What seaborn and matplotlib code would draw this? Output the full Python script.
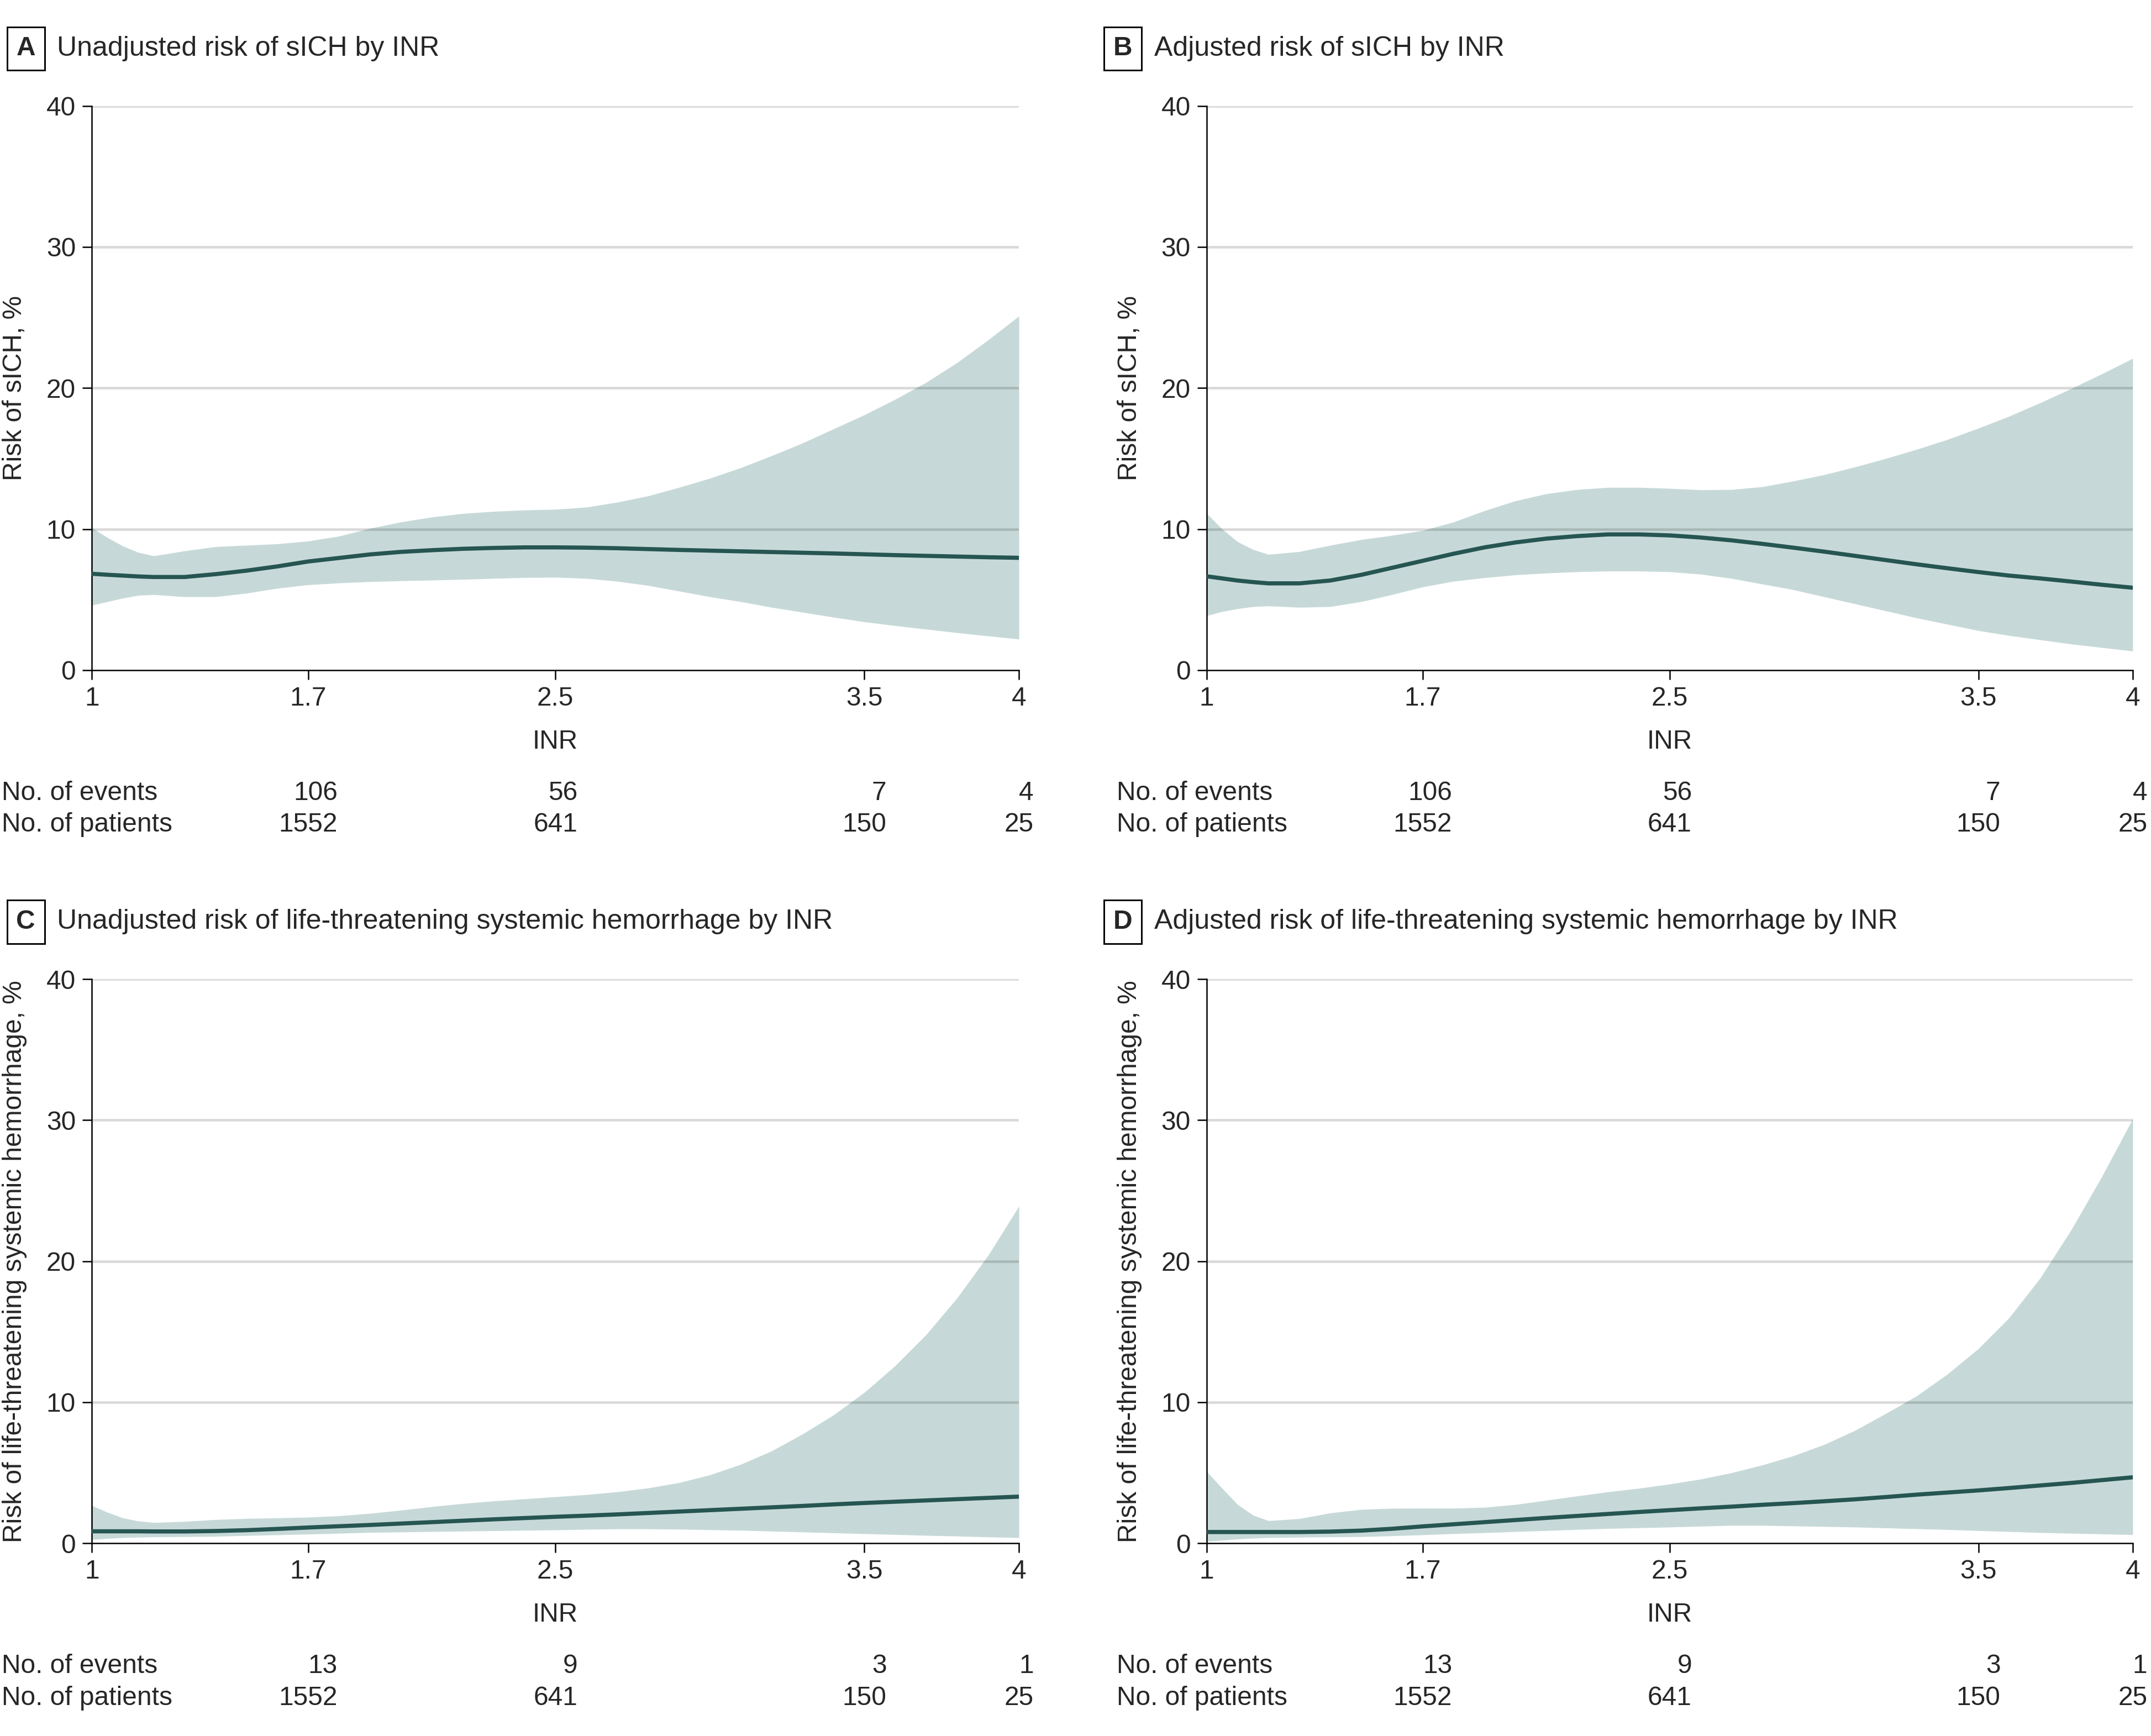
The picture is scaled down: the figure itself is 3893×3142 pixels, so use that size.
import seaborn as sns
import matplotlib.pyplot as plt
import pandas as pd

sns.set_style('white')
plt.rcParams['font.family'] = ['Liberation Sans', 'DejaVu Sans']

# INR grid
inr = [1.0, 1.05, 1.1, 1.15, 1.2, 1.3, 1.4, 1.5, 1.6, 1.7, 1.8, 1.9, 2.0, 2.1, 2.2, 2.3, 2.4,
       2.5, 2.6, 2.7, 2.8, 2.9, 3.0, 3.1, 3.2, 3.3, 3.4, 3.5, 3.6, 3.7, 3.8, 3.9, 4.0]

# A - unadjusted sICH
a_upper = [10.1, 9.4, 8.8, 8.35, 8.1, 8.45, 8.75, 8.85, 8.95, 9.15, 9.5, 10.05, 10.5, 10.85, 11.1, 11.25, 11.35,
           11.4, 11.55, 11.9, 12.35, 12.95, 13.6, 14.35, 15.2, 16.1, 17.1, 18.1, 19.2, 20.4, 21.8, 23.4, 25.1]
a_risk = [6.83, 6.76, 6.7, 6.64, 6.6, 6.6, 6.8, 7.05, 7.35, 7.7, 7.95, 8.2, 8.38, 8.5, 8.6, 8.66, 8.7,
          8.7, 8.68, 8.64, 8.58, 8.52, 8.47, 8.42, 8.37, 8.32, 8.27, 8.21, 8.15, 8.1, 8.05, 8.0, 7.96]
a_lower = [4.6, 4.85, 5.1, 5.3, 5.35, 5.2, 5.2, 5.45, 5.8, 6.05, 6.18, 6.27, 6.33, 6.38, 6.43, 6.5, 6.56,
           6.58, 6.5, 6.3, 6.0, 5.6, 5.2, 4.85, 4.45, 4.1, 3.75, 3.42, 3.15, 2.9, 2.65, 2.42, 2.2]

# B - adjusted sICH
b_upper = [11.1, 10.0, 9.1, 8.55, 8.2, 8.4, 8.85, 9.25, 9.55, 9.9, 10.5, 11.3, 12.0, 12.5, 12.8, 12.95, 12.95,
           12.88, 12.78, 12.8, 13.0, 13.4, 13.85, 14.4, 15.0, 15.65, 16.35, 17.15, 18.0, 18.95, 19.95, 21.0, 22.1]
b_risk = [6.65, 6.5, 6.35, 6.24, 6.15, 6.15, 6.35, 6.75, 7.25, 7.75, 8.25, 8.7, 9.05, 9.32, 9.5, 9.62, 9.62,
          9.55, 9.4, 9.2, 8.95, 8.68, 8.4, 8.1, 7.8, 7.5, 7.22, 6.95, 6.7, 6.5, 6.28, 6.05, 5.84]
b_lower = [3.86, 4.15, 4.35, 4.5, 4.55, 4.45, 4.5, 4.85, 5.35, 5.9, 6.3, 6.55, 6.75, 6.88, 6.97, 7.02, 7.02,
           6.97, 6.8, 6.5, 6.1, 5.7, 5.2, 4.7, 4.2, 3.7, 3.25, 2.8, 2.45, 2.15, 1.85, 1.6, 1.35]

# C - unadjusted life-threatening systemic hemorrhage
c_upper = [2.68, 2.2, 1.8, 1.58, 1.47, 1.55, 1.68, 1.76, 1.8, 1.85, 1.95, 2.12, 2.35, 2.6, 2.82, 3.0, 3.15,
           3.3, 3.45, 3.65, 3.92, 4.3, 4.85, 5.6, 6.55, 7.75, 9.1, 10.7, 12.6, 14.8, 17.4, 20.4, 23.9]
c_risk = [0.85, 0.85, 0.85, 0.85, 0.84, 0.84, 0.87, 0.93, 1.02, 1.12, 1.21, 1.3, 1.4, 1.5, 1.6, 1.7, 1.79,
          1.88, 1.96, 2.05, 2.15, 2.25, 2.35, 2.45, 2.55, 2.65, 2.76, 2.86, 2.95, 3.04, 3.13, 3.22, 3.31]
c_lower = [0.27, 0.34, 0.4, 0.43, 0.45, 0.47, 0.49, 0.55, 0.6, 0.65, 0.71, 0.77, 0.8, 0.83, 0.86, 0.89, 0.92,
           0.95, 0.99, 1.02, 1.02, 1.0, 0.96, 0.92, 0.86, 0.8, 0.74, 0.68, 0.62, 0.56, 0.51, 0.45, 0.4]

# D - adjusted life-threatening systemic hemorrhage
d_upper = [5.08, 3.9, 2.75, 2.0, 1.6, 1.75, 2.15, 2.4, 2.48, 2.49, 2.49, 2.55, 2.75, 3.05, 3.35, 3.65, 3.9,
           4.2, 4.55, 5.0, 5.55, 6.2, 7.0, 8.0, 9.2, 10.45, 12.0, 13.8, 16.0, 18.8, 22.2, 26.0, 30.1]
d_risk = [0.8, 0.8, 0.8, 0.8, 0.8, 0.8, 0.83, 0.9, 1.03, 1.2, 1.35, 1.5, 1.65, 1.8, 1.94, 2.08, 2.22,
          2.35, 2.48, 2.6, 2.73, 2.85, 2.98, 3.12, 3.28, 3.45, 3.6, 3.75, 3.92, 4.1, 4.28, 4.48, 4.68]
d_lower = [0.13, 0.22, 0.3, 0.36, 0.4, 0.43, 0.45, 0.47, 0.53, 0.6, 0.68, 0.75, 0.83, 0.9, 0.98, 1.05, 1.1,
           1.15, 1.21, 1.27, 1.27, 1.23, 1.19, 1.15, 1.09, 1.03, 0.97, 0.9, 0.83, 0.76, 0.71, 0.66, 0.61]

xticks = [1, 1.7, 2.5, 3.5, 4]
yticks = [0, 10, 20, 30, 40]
table_x = [1.7, 2.5, 3.5, 4]
sich_events = [106, 56, 7, 4]
lt_events = [13, 9, 3, 1]
patients = [1552, 641, 150, 25]

panels = [
    ('A', 'Unadjusted risk of sICH by INR', 'Risk of sICH, %', a_risk, a_upper, a_lower, sich_events),
    ('B', 'Adjusted risk of sICH by INR', 'Risk of sICH, %', b_risk, b_upper, b_lower, sich_events),
    ('C', 'Unadjusted risk of life-threatening systemic hemorrhage by INR',
     'Risk of life-threatening systemic hemorrhage, %', c_risk, c_upper, c_lower, lt_events),
    ('D', 'Adjusted risk of life-threatening systemic hemorrhage by INR',
     'Risk of life-threatening systemic hemorrhage, %', d_risk, d_upper, d_lower, lt_events),
]

boxes = [[0.0427, 0.614, 0.431, 0.325], [0.561, 0.614, 0.4305, 0.325],
         [0.0427, 0.111, 0.431, 0.325], [0.561, 0.111, 0.4305, 0.325]]
label_pos = [(0.012, 0.972), (0.522, 0.972), (0.012, 0.469), (0.522, 0.469)]

fill_color = '#c6d9d8'
line_color = '#265552'
fs = 11.5

fig = plt.figure(figsize=(3893 / 300, 3142 / 300), dpi=300)

for (letter, title, ylab, risk, upper, lower, events), box, (lx, ly) in zip(panels, boxes, label_pos):
    ax = fig.add_axes(box)
    df = pd.DataFrame({'INR': inr, 'risk': risk, 'upper': upper, 'lower': lower})

    ax.fill_between(df['INR'], df['lower'], df['upper'], color=fill_color, lw=0, zorder=1)
    sns.lineplot(data=df, x='INR', y='risk', ax=ax, color=line_color, lw=1.8, zorder=3)

    # grid lines drawn on top, semi transparent
    for y in yticks[1:]:
        ax.axhline(y, color='black', alpha=0.15, lw=1.1, zorder=2)

    ax.set_xlim(1, 4)
    ax.set_ylim(0, 40)
    ax.set_xticks(xticks)
    ax.set_xticklabels(['1', '1.7', '2.5', '3.5', '4'])
    ax.set_yticks(yticks)
    ax.tick_params(axis='both', direction='out', length=4, width=0.6, color='black',
                   labelsize=fs, pad=3, left=True, bottom=True)
    for s in ['top', 'right']:
        ax.spines[s].set_visible(False)
    for s in ['left', 'bottom']:
        ax.spines[s].set_color('black')
        ax.spines[s].set_linewidth(0.6)

    ax.set_xlabel('INR', fontsize=fs)
    ax.xaxis.set_label_coords(0.5, -0.105)
    ax.set_ylabel(ylab, fontsize=fs)
    ax.yaxis.set_label_coords(-0.07, 0.5)

    # panel letter and title
    fig.text(lx, ly, letter, fontsize=fs, fontweight='bold', ha='center', va='center',
             bbox=dict(boxstyle='square,pad=0.35', fc='white', ec='black', lw=0.7))
    fig.text(lx + 0.0145, ly, title, fontsize=fs + 0.5, ha='left', va='center')

    # numbers under the axis
    ax.text(-0.097, -0.218, 'No. of events', transform=ax.transAxes, fontsize=fs, ha='left', va='center')
    ax.text(-0.097, -0.274, 'No. of patients', transform=ax.transAxes, fontsize=fs, ha='left', va='center')
    for x, ev, pt in zip(table_x, events, patients):
        t = ax.text(x, -0.274, str(pt), transform=ax.get_xaxis_transform(), fontsize=fs,
                    ha='center', va='center', clip_on=False)
        ax.annotate(str(ev), xy=(1, 0.5), xycoords=t, xytext=(0, 13.7), textcoords='offset points',
                    fontsize=fs, ha='right', va='center')

fig.savefig('out.png', dpi=300)
